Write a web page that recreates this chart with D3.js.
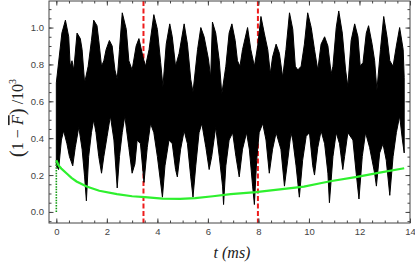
<!DOCTYPE html>
<html>
<head>
<meta charset="utf-8">
<script src="https://cdn.jsdelivr.net/npm/d3@7"></script>
<style>
  body { margin: 0; background: #fff; }
  svg { display: block; }
  .tick text { font-family: "Liberation Sans", Arial, sans-serif; font-size: 9.5px; fill: #444; }
  .lbl { font-family: "Liberation Serif", "Times New Roman", serif; fill: #222; }
</style>
</head>
<body>
<svg id="chart" width="415" height="268"></svg>
<script>
// upper edge of the black band (t in ms, value)
const upperT = [0.00, 0.22, 0.36, 0.49, 0.55, 0.62, 0.69, 0.82, 0.95, 1.02, 1.12, 1.26, 1.39, 1.48, 1.61, 1.68, 1.79, 1.88, 1.97, 2.10,
  2.21, 2.32, 2.41, 2.50, 2.61, 2.77, 2.87, 3.00, 3.16, 3.27, 3.43, 3.53, 3.67, 3.86, 4.00, 4.13, 4.22, 4.35, 4.49,
  4.59, 4.72, 4.86, 5.06, 5.19, 5.32, 5.41, 5.59, 5.72, 5.85, 6.02, 6.11, 6.18, 6.31, 6.45, 6.55, 6.71, 6.84, 6.95,
  7.08, 7.17, 7.27, 7.37, 7.57, 7.70, 7.84, 7.97, 8.10, 8.23, 8.37, 8.47, 8.56, 8.70, 8.83, 8.96, 9.09, 9.23,
  9.36, 9.46, 9.56, 9.69, 9.82, 9.95, 10.09, 10.22, 10.35, 10.48, 10.62, 10.75, 10.88, 10.95, 11.08, 11.18, 11.32,
  11.45, 11.54, 11.67, 11.81, 11.94, 12.03, 12.14, 12.27, 12.36, 12.50, 12.60, 12.69, 12.83, 12.96, 13.09, 13.20,
  13.33, 13.46, 13.59, 13.73, 13.77];
const upperV = [0.70, 0.97, 1.04, 0.95, 0.79, 0.82, 0.77, 0.97, 0.94, 0.88, 0.70, 0.79, 0.93, 1.04, 1.01, 0.93, 0.79, 0.82, 0.88, 0.93,
  0.90, 0.77, 0.72, 0.88, 1.08, 0.99, 0.82, 0.77, 0.90, 0.94, 0.84, 0.79, 0.88, 1.07, 0.99, 0.81, 0.68, 0.91, 1.02,
  0.95, 0.79, 0.86, 1.02, 0.91, 0.72, 0.65, 0.88, 1.00, 0.95, 0.83, 0.73, 1.03, 0.97, 0.82, 0.64, 0.79, 0.97, 1.02,
  0.93, 0.82, 0.79, 0.88, 1.00, 0.88, 0.79, 0.90, 1.06, 0.97, 0.88, 0.75, 0.84, 0.91, 0.86, 0.73, 0.88, 1.08,
  0.99, 0.79, 0.77, 0.79, 0.91, 1.08, 1.00, 0.88, 0.77, 0.91, 0.95, 0.90, 0.75, 0.79, 1.00, 1.09, 0.97,
  0.77, 0.68, 0.93, 1.02, 0.95, 0.79, 0.81, 0.97, 1.01, 0.91, 0.82, 0.66, 0.88, 1.06, 0.95, 0.82,
  0.79, 0.90, 1.00, 0.88, 0.73];

// lower edge of the black band
const lowerT = [0.00, 0.09, 0.20, 0.29, 0.42, 0.52, 0.65, 0.75, 0.89, 1.02, 1.12, 1.19, 1.28, 1.39, 1.48, 1.57, 1.68, 1.79, 1.88,
  2.01, 2.14, 2.28, 2.41, 2.50, 2.61, 2.71, 2.87, 3.00, 3.11, 3.20, 3.33, 3.47, 3.60, 3.73, 3.86, 4.00, 4.20, 4.30, 4.46,
  4.59, 4.72, 4.79, 4.92, 5.06, 5.19, 5.32, 5.41, 5.52, 5.65, 5.76, 5.92, 6.05, 6.15, 6.31, 6.45, 6.58, 6.62, 6.71,
  6.84, 6.98, 7.11, 7.24, 7.37, 7.53, 7.64, 7.77, 7.84, 7.93, 8.03, 8.17, 8.30, 8.43, 8.56, 8.70, 8.89, 9.03, 9.16, 9.29,
  9.36, 9.49, 9.62, 9.75, 9.89, 10.02, 10.15, 10.22, 10.35, 10.48, 10.62, 10.75, 10.81, 10.95, 11.08, 11.21, 11.34,
  11.41, 11.54, 11.74, 11.87, 11.98, 12.11, 12.24, 12.40, 12.60, 12.67, 12.80, 12.93, 13.06, 13.20, 13.33, 13.46,
  13.59, 13.70, 13.77];
const lowerV = [0.25, 0.23, 0.39, 0.44, 0.37, 0.30, 0.25, 0.35, 0.46, 0.34, 0.19, 0.06, 0.30, 0.43, 0.50, 0.43, 0.30, 0.21, 0.30,
  0.41, 0.52, 0.39, 0.13, 0.30, 0.43, 0.52, 0.35, 0.21, 0.26, 0.39, 0.37, 0.16, 0.35, 0.48, 0.43, 0.30, 0.08, 0.25, 0.39,
  0.37, 0.23, 0.19, 0.34, 0.44, 0.37, 0.19, 0.08, 0.25, 0.43, 0.48, 0.35, 0.23, 0.30, 0.46, 0.30, 0.14, 0.04, 0.25,
  0.39, 0.43, 0.30, 0.19, 0.34, 0.43, 0.34, 0.14, 0.04, 0.28, 0.43, 0.48, 0.39, 0.21, 0.34, 0.43, 0.34, 0.14, 0.28, 0.43,
  0.39, 0.25, 0.08, 0.28, 0.41, 0.43, 0.25, 0.20, 0.35, 0.44, 0.37, 0.21, 0.05, 0.30, 0.43, 0.37, 0.23,
  0.30, 0.43, 0.39, 0.21, 0.07, 0.30, 0.43, 0.35, 0.21, 0.14, 0.32, 0.37, 0.28, 0.09, 0.30, 0.43,
  0.52, 0.39, 0.32];

// green curve
const greenT = [0.00, 0.10, 0.20, 0.40, 0.60, 0.80, 1.20, 1.70, 2.40, 3.00, 3.50, 4.20, 4.90, 5.50, 6.20, 6.90, 7.90,
  8.50, 9.20, 9.80, 10.50, 10.90, 11.90, 12.80, 13.77];
const greenV = [0.28, 0.25, 0.235, 0.21, 0.185, 0.165, 0.138, 0.115, 0.097, 0.085, 0.080, 0.072, 0.071, 0.075, 0.085, 0.097, 0.107,
  0.117, 0.128, 0.137, 0.157, 0.168, 0.190, 0.213, 0.237];
const greenRiseV = [0.0, 0.28];

const markerT = [3.45, 7.98];
const xTicks = [0, 2, 4, 6, 8, 10, 12, 14];
const yTicks = [0.0, 0.2, 0.4, 0.6, 0.8, 1.0];

const svg = d3.select("#chart");
const x = d3.scaleLinear().domain([-0.29, 14]).range([49, 410]);
const y = d3.scaleLinear().domain([-0.06, 1.144]).range([223, 1]);

const line = d3.line().x(d => x(d[0])).y(d => y(d[1]));

// red markers (behind the black band)
svg.selectAll(".marker")
  .data(markerT)
  .join("line")
  .attr("class", "marker")
  .attr("x1", d => x(d)).attr("x2", d => x(d))
  .attr("y1", y.range()[1]).attr("y2", y.range()[0])
  .attr("stroke", "#ee1c1c")
  .attr("stroke-width", 2)
  .attr("stroke-dasharray", "5,2.5");

// black band
const upper = upperT.map((t, i) => [t, upperV[i]]);
const lower = lowerT.map((t, i) => [t, lowerV[i]]).reverse();
svg.append("path")
  .attr("d", line(upper.concat(lower)) + "Z")
  .attr("fill", "#000")
  .attr("stroke", "#000")
  .attr("stroke-width", 1)
  .attr("stroke-linejoin", "miter");

// green
svg.append("path")
  .attr("d", line(greenRiseV.map(v => [0, v])))
  .attr("stroke", "#119a11")
  .attr("stroke-width", 1.6)
  .attr("stroke-dasharray", "1.5,1.2")
  .attr("fill", "none");
svg.append("path")
  .attr("d", line(greenT.map((t, i) => [t, greenV[i]])))
  .attr("stroke", "#2ef02e")
  .attr("stroke-width", 2.2)
  .attr("fill", "none");

// frame + ticks
const xMinor = d3.range(0, 14.01, 0.5);
const yMinor = d3.range(-0.05, 1.13, 0.05);

function frameAxis(axisFn, scale, major, minor, tr, labels) {
  const gMin = svg.append("g").attr("transform", tr)
    .call(axisFn(scale).tickValues(minor).tickSize(-2.5).tickFormat(""));
  gMin.select(".domain").remove();
  const g = svg.append("g").attr("transform", tr)
    .call(axisFn(scale).tickValues(major).tickSize(-4.5).tickPadding(5)
      .tickFormat(labels ? (axisFn === d3.axisLeft ? d3.format(".1f") : d3.format("d")) : ""));
  g.select(".domain").remove();
  svg.selectAll(".tick line").attr("stroke", "#444");
}
frameAxis(d3.axisBottom, x, xTicks, xMinor, "translate(0,223)", true);
frameAxis(d3.axisTop, x, xTicks, xMinor, "translate(0,1)", false);
frameAxis(d3.axisLeft, y, yTicks, yMinor, "translate(49,0)", true);
frameAxis(d3.axisRight, y, yTicks, yMinor, "translate(410,0)", false);

svg.append("rect")
  .attr("x", 49).attr("y", 1).attr("width", 361).attr("height", 222)
  .attr("fill", "none").attr("stroke", "#444").attr("stroke-width", 1);

// axis labels
svg.append("text").attr("class", "lbl")
  .attr("x", 232).attr("y", 258).attr("text-anchor", "middle")
  .attr("font-size", 16)
  .html('<tspan font-style="italic">t</tspan> <tspan font-style="italic">(ms)</tspan>');

const yl = svg.append("text").attr("class", "lbl")
  .attr("transform", "translate(23,118) rotate(-90)")
  .attr("text-anchor", "middle")
  .attr("font-size", 16);
yl.html('<tspan font-size="21" dy="1">(</tspan><tspan dy="-1">1 − </tspan>' +
  '<tspan font-style="italic" text-decoration="overline">F</tspan>' +
  '<tspan font-size="21" dy="1">)</tspan><tspan dy="-1"> /10</tspan><tspan font-size="10" dy="-7">3</tspan>');
</script>
</body>
</html>
